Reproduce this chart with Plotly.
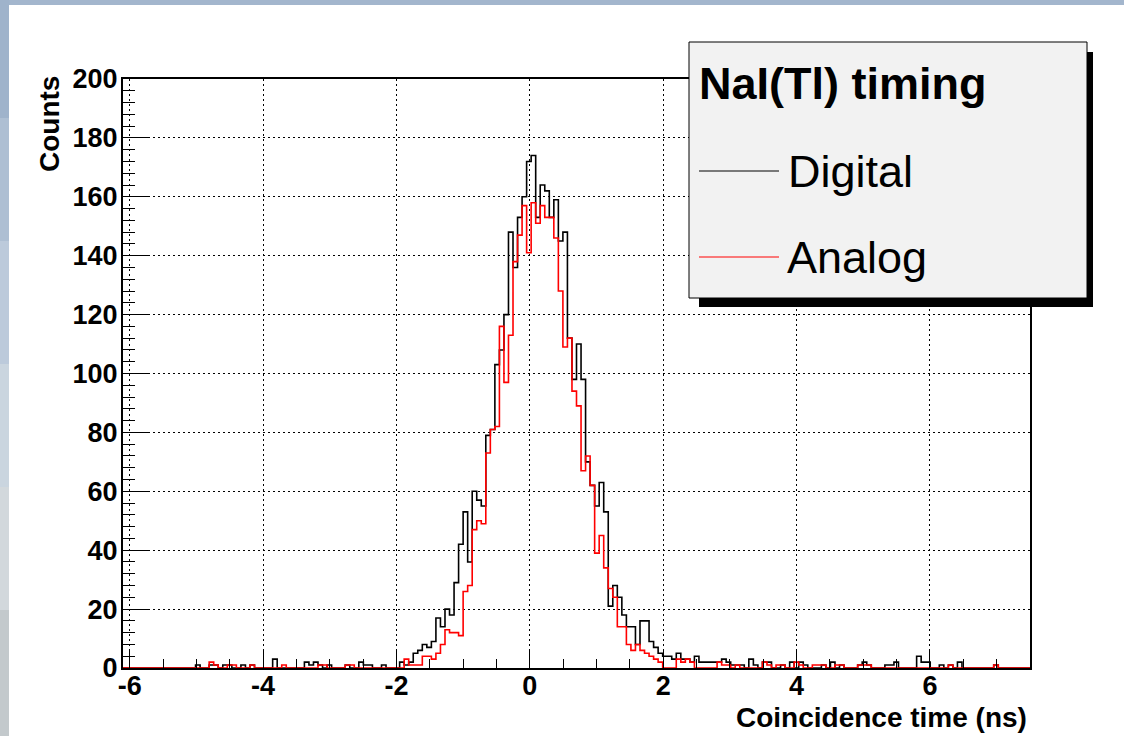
import numpy as np
import plotly.graph_objects as go

# Histogram binning: 200 bins over the coincidence-time window (ns)
X_MIN, X_MAX, N_BINS = -6.1, 7.5, 200

# Counts per bin, digital timing (black)
digital = [
    0, 0, 0, 0, 0, 0, 0, 0, 0, 0, 0, 0, 0, 0, 0, 0, 1, 0, 0, 1,
    1, 0, 1, 1, 0, 0, 1, 0, 1, 0, 0, 0, 0, 3, 0, 0, 0, 0, 0, 0,
    2, 1, 2, 1, 0, 1, 0, 0, 0, 1, 0, 0, 2, 1, 1, 0, 0, 1, 0, 0,
    0, 2, 1, 2, 5, 6, 8, 7, 9, 17, 14, 20, 18, 29, 42, 53, 36, 60, 57, 55,
    79, 81, 103, 108, 120, 148, 136, 153, 160, 172, 174, 153, 164, 162, 153, 159, 145, 148, 112, 98,
    110, 98, 70, 62, 55, 63, 53, 21, 28, 24, 18, 14, 14, 8, 16, 16, 9, 7, 5, 4,
    4, 3, 5, 3, 3, 2, 4, 2, 2, 2, 2, 2, 3, 2, 1, 1, 1, 0, 3, 1,
    0, 2, 2, 0, 0, 1, 0, 2, 0, 2, 1, 0, 0, 0, 1, 0, 2, 0, 1, 0,
    0, 0, 1, 2, 1, 0, 0, 0, 1, 1, 2, 0, 0, 0, 0, 4, 2, 2, 0, 0,
    1, 0, 1, 0, 2, 0, 0, 0, 0, 0, 0, 0, 1, 0, 0, 0, 0, 0, 0, 0,
]

# Counts per bin, analog timing (red)
analog = [
    0, 0, 0, 0, 0, 0, 0, 0, 0, 0, 0, 0, 0, 0, 0, 0, 0, 0, 0, 2,
    1, 0, 0, 1, 1, 0, 0, 0, 1, 0, 0, 0, 0, 0, 0, 1, 0, 0, 0, 0,
    0, 0, 0, 1, 1, 0, 0, 0, 0, 1, 1, 0, 0, 0, 0, 0, 0, 0, 0, 0,
    0, 0, 3, 1, 1, 1, 4, 4, 3, 5, 8, 13, 12, 12, 11, 26, 28, 47, 50, 49,
    73, 81, 82, 116, 97, 113, 138, 147, 157, 141, 158, 151, 157, 153, 153, 146, 128, 109, 112, 94,
    89, 67, 72, 62, 39, 45, 34, 27, 24, 14, 14, 8, 6, 8, 6, 5, 4, 3, 2, 0,
    0, 0, 3, 2, 3, 2, 0, 0, 0, 0, 0, 2, 1, 1, 0, 1, 0, 0, 0, 0,
    0, 2, 1, 0, 1, 1, 0, 0, 2, 1, 0, 0, 1, 1, 1, 0, 0, 1, 1, 0,
    0, 0, 1, 1, 1, 0, 0, 0, 0, 0, 0, 0, 0, 0, 0, 0, 0, 0, 0, 0,
    0, 0, 1, 0, 0, 0, 0, 0, 0, 0, 0, 0, 1, 0, 0, 0, 0, 0, 0, 0,
]

x_ticks = [-6, -4, -2, 0, 2, 4, 6]
y_ticks = [0, 20, 40, 60, 80, 100, 120, 140, 160, 180, 200]

legend_title = "NaI(Tl) timing"
series_names = ["Digital", "Analog"]
series_colors = ["#000000", "#ff0000"]

FONT = "Liberation Sans, Arial, Helvetica, sans-serif"
W_PAGE, H_PAGE = 1124, 736
M_L, M_R, M_T, M_B = 123, 94, 79, 68
PW = W_PAGE - M_L - M_R
PH = H_PAGE - M_T - M_B


def fx(p):
    """page pixel x -> paper x"""
    return (p - M_L) / PW


def fy(p):
    """page pixel y -> paper y"""
    return (H_PAGE - M_B - p) / PH


edges = np.linspace(X_MIN, X_MAX, N_BINS + 1)

fig = go.Figure()
for name, counts, color in zip(series_names, [digital, analog], series_colors):
    fig.add_trace(go.Scatter(
        x=edges, y=list(counts) + [counts[-1]],
        mode="lines", line=dict(color=color, width=1.6, shape="hv"),
        name=name, showlegend=False, hoverinfo="skip",
    ))

shapes = []
# blurred backdrop bands along the left edge
band_cols = ["#9fb3cb", "#aebfd3", "#bccadb", "#cad5df", "#d2d8dc", "#c3c9cc"]
for i, c in enumerate(band_cols):
    shapes.append(dict(type="rect", xref="paper", yref="paper", layer="below",
                       x0=fx(-5), x1=fx(9.5), y0=fy(i * 123 + 130), y1=fy(i * 123 - 5),
                       line=dict(width=0), fillcolor=c))
# white canvas
shapes.append(dict(type="rect", xref="paper", yref="paper", layer="below",
                   x0=fx(9), x1=fx(W_PAGE + 10), y0=fy(H_PAGE + 10), y1=fy(5),
                   line=dict(width=0), fillcolor="white"))
# legend shadow + box
shapes.append(dict(type="rect", xref="paper", yref="paper", layer="above",
                   x0=fx(699), x1=fx(1093), y0=fy(307), y1=fy(52),
                   line=dict(width=0), fillcolor="black"))
shapes.append(dict(type="rect", xref="paper", yref="paper", layer="above",
                   x0=fx(689), x1=fx(1087), y0=fy(298), y1=fy(42),
                   line=dict(width=1, color="black"), fillcolor="#f2f2f2"))
for yy, c in zip([171, 257], series_colors):
    shapes.append(dict(type="line", xref="paper", yref="paper", layer="above",
                       x0=fx(699), x1=fx(779), y0=fy(yy), y1=fy(yy),
                       line=dict(width=1.2, color=c)))

annotations = [
    dict(text=legend_title, xref="paper", yref="paper", x=fx(697), y=fy(84),
         xanchor="left", yanchor="middle", showarrow=False,
         font=dict(family=FONT, size=45, color="black", weight=700)),
    dict(text=series_names[0], xref="paper", yref="paper", x=fx(786), y=fy(171),
         xanchor="left", yanchor="middle", showarrow=False,
         font=dict(family=FONT, size=45, color="black")),
    dict(text=series_names[1], xref="paper", yref="paper", x=fx(785), y=fy(257),
         xanchor="left", yanchor="middle", showarrow=False,
         font=dict(family=FONT, size=45, color="black")),
    dict(text="Coincidence time (ns)", xref="paper", yref="paper", x=fx(1029), y=fy(717),
         xanchor="right", yanchor="middle", showarrow=False,
         font=dict(family=FONT, size=28, color="black", weight=700)),
    dict(text="Counts", xref="paper", yref="paper", x=fx(49), y=fy(74),
         xanchor="center", yanchor="top", textangle=-90, showarrow=False,
         font=dict(family=FONT, size=28, color="black", weight=700)),
]

axis_common = dict(
    showline=True, linecolor="black", linewidth=2, mirror=True,
    showgrid=True, gridcolor="black", gridwidth=1, griddash="2px,3px",
    zeroline=False, ticks="inside", tickcolor="black", tickwidth=1,
    tickfont=dict(family=FONT, size=27, color="black", weight=700),
)

fig.update_layout(
    width=W_PAGE, height=H_PAGE, autosize=False,
    margin=dict(l=M_L, r=M_R, t=M_T, b=M_B, pad=0),
    paper_bgcolor="#a3b6cd", plot_bgcolor="white",
    showlegend=False,
    shapes=shapes, annotations=annotations,
    xaxis=dict(axis_common, range=[X_MIN, X_MAX], tickvals=x_ticks,
               ticktext=[str(v) for v in x_ticks], ticklen=19,
               minor=dict(dtick=0.5, tick0=0, ticks="inside", ticklen=9,
                          tickcolor="black", tickwidth=1, showgrid=False),
               ticklabelstandoff=-7),
    yaxis=dict(axis_common, range=[0, 200], tickvals=y_ticks, ticklen=25,
               minor=dict(dtick=4, tick0=0, ticks="inside", ticklen=12,
                          tickcolor="black", tickwidth=1, showgrid=False),
               ticklabelstandoff=-2),
)

fig.write_html("out.html")
